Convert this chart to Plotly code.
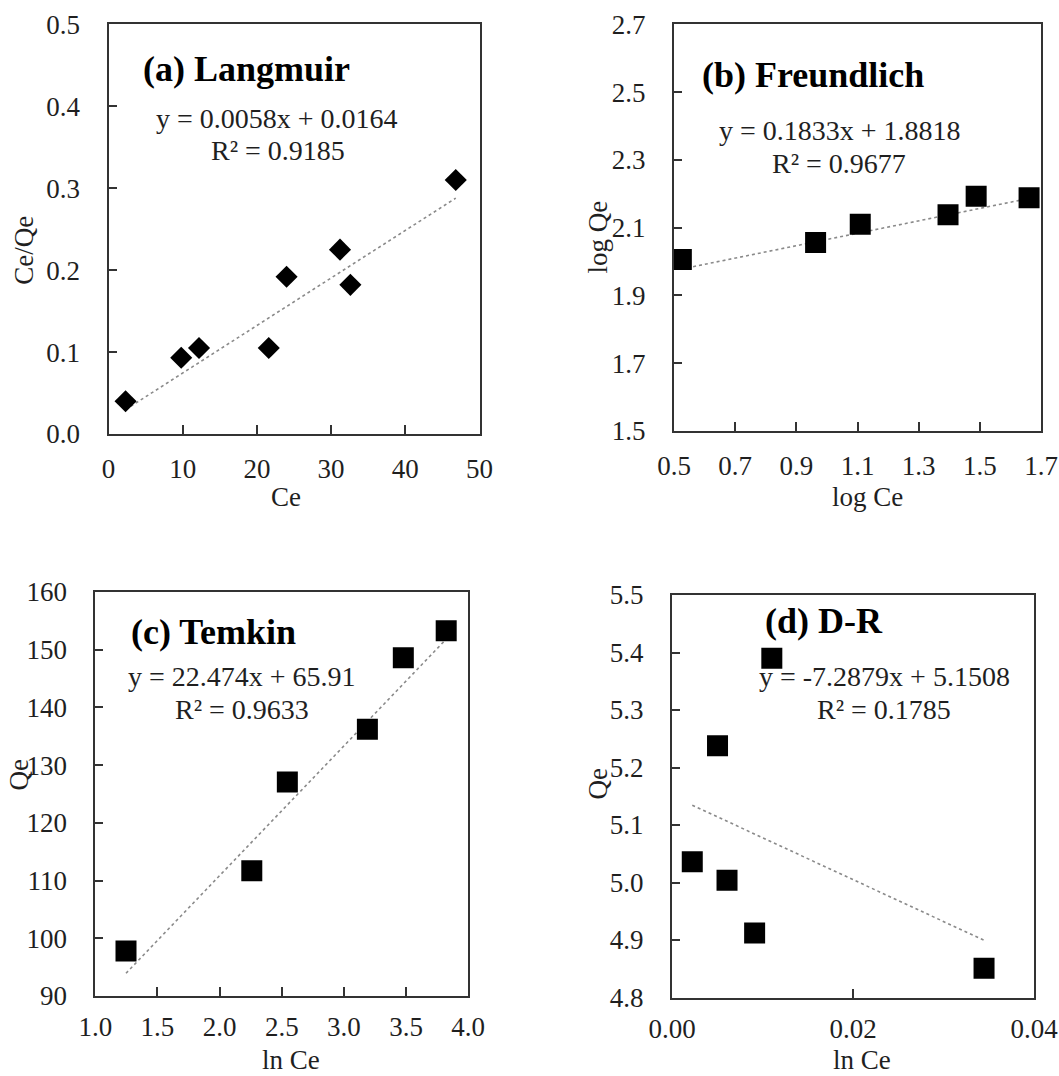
import plotly.graph_objects as go

W, H = 1059, 1076
FONT = "Liberation Serif"
TXT = "#1f1f1f"

# ---------------- data ----------------
# (a) Langmuir
lang_ce = [2.3, 9.8, 12.2, 21.6, 24.0, 31.2, 32.6, 46.8]
lang_ceqe = [0.040, 0.093, 0.105, 0.105, 0.192, 0.225, 0.182, 0.310]
lang_fit = (0.0058, 0.0164)
lang_eq = ["y = 0.0058x + 0.0164", "R² = 0.9185"]

# (b) Freundlich
fr_logce = [0.524, 0.963, 1.109, 1.396, 1.488, 1.661]
fr_logqe = [2.006, 2.056, 2.110, 2.138, 2.193, 2.188]
fr_fit = (0.1833, 1.8818)
fr_eq = ["y = 0.1833x + 1.8818", "R² = 0.9677"]

# (c) Temkin
tk_lnce = [1.247, 2.259, 2.545, 3.189, 3.478, 3.823]
tk_qe = [97.8, 111.7, 127.1, 136.2, 148.6, 153.3]
tk_fit = (22.474, 65.91)
tk_eq = ["y = 22.474x + 65.91", "R² = 0.9633"]

# (d) D-R
dr_x = [0.00224, 0.00503, 0.00608, 0.00913, 0.01103, 0.03448]
dr_qe = [5.036, 5.238, 5.004, 4.912, 5.390, 4.851]
dr_fit = (-7.2879, 5.1508)
dr_eq = ["y = -7.2879x + 5.1508", "R² = 0.1785"]

titles = ["(a) Langmuir", "(b) Freundlich", "(c) Temkin", "(d) D-R"]
xtitles = ["Ce", "log Ce", "ln Ce", "ln Ce"]
ytitles = ["Ce/Qe", "log Qe", "Qe", "Qe"]

# ---------------- layout helpers ----------------
def px(x):
    return x / W

def py(y):
    return 1 - y / H

# plot boxes in pixels: left, right, top, bottom
boxes = [
    (108.5, 479.5, 24.3, 434.0),
    (674.0, 1041.0, 24.3, 431.0),
    (95.3, 468.2, 592.0, 996.0),
    (672.0, 1034.0, 595.0, 997.5),
]
x_standoff = [10, 10, 6, 6]

fig = go.Figure()

panels = [
    (lang_ce, lang_ceqe, lang_fit, "diamond", 17),
    (fr_logce, fr_logqe, fr_fit, "square", 21),
    (tk_lnce, tk_qe, tk_fit, "square", 21),
    (dr_x, dr_qe, dr_fit, "square", 21),
]

for i, (xs, ys, (m, b), sym, size) in enumerate(panels):
    xa = "x" if i == 0 else f"x{i+1}"
    ya = "y" if i == 0 else f"y{i+1}"
    x0, x1 = min(xs), max(xs)
    fig.add_trace(go.Scatter(
        x=[x0, x1], y=[m * x0 + b, m * x1 + b], mode="lines",
        line=dict(color="#8a8a8a", width=1.6, dash="dot"),
        xaxis=xa, yaxis=ya, showlegend=False, hoverinfo="skip"))
    fig.add_trace(go.Scatter(
        x=xs, y=ys, mode="markers",
        marker=dict(symbol=sym, size=size, color="black",
                    line=dict(width=0)),
        xaxis=xa, yaxis=ya, showlegend=False))

axis_common = dict(
    showgrid=False, zeroline=False, showline=True, mirror=True,
    automargin=False,
    linecolor="#333333", linewidth=2, ticks="inside", tickcolor="#333333",
    tickwidth=1.8, tickfont=dict(family=FONT, size=27, color=TXT),
)

xspecs = [
    dict(range=[0, 50], tickvals=[0, 10, 20, 30, 40, 50], tickformat="d"),
    dict(range=[0.5, 1.7], tickvals=[0.5, 0.7, 0.9, 1.1, 1.3, 1.5, 1.7], tickformat=".1f"),
    dict(range=[1.0, 4.0], tickvals=[1.0, 1.5, 2.0, 2.5, 3.0, 3.5, 4.0], tickformat=".1f"),
    dict(range=[0, 0.04], tickvals=[0, 0.02, 0.04], tickformat=".2f"),
]
yspecs = [
    dict(range=[0, 0.5], tickvals=[0, 0.1, 0.2, 0.3, 0.4, 0.5], tickformat=".1f"),
    dict(range=[1.5, 2.7], tickvals=[1.5, 1.7, 1.9, 2.1, 2.3, 2.5, 2.7], tickformat=".1f"),
    dict(range=[90, 160], tickvals=[90, 100, 110, 120, 130, 140, 150, 160], tickformat="d"),
    dict(range=[4.8, 5.5], tickvals=[4.8, 4.9, 5.0, 5.1, 5.2, 5.3, 5.4, 5.5], tickformat=".1f"),
]

layout = dict(
    template="none",
    width=W, height=H, margin=dict(l=0, r=0, t=0, b=0, pad=0),
    paper_bgcolor="white", plot_bgcolor="white", showlegend=False,
    font=dict(family=FONT, color=TXT),
)

for i, (L, R, T, B) in enumerate(boxes):
    xk = "xaxis" if i == 0 else f"xaxis{i+1}"
    yk = "yaxis" if i == 0 else f"yaxis{i+1}"
    xa = "x" if i == 0 else f"x{i+1}"
    ya = "y" if i == 0 else f"y{i+1}"
    layout[xk] = dict(axis_common, domain=[px(L), px(R)], anchor=ya,
                      ticklen=9, ticklabelstandoff=x_standoff[i], **xspecs[i])
    layout[yk] = dict(axis_common, domain=[py(B), py(T)], anchor=xa,
                      ticklen=8, ticklabelstandoff=21, **yspecs[i])

fig.update_layout(**layout)

# annotation positions (pixels)
title_pos = [(141.3, 69), (700.4, 75), (128.5, 632), (762.8, 621)]
eq_pos = [((276.7, 119), (278, 150.4)),
          ((839.5, 130), (838.7, 164)),
          ((242.2, 676), (242.4, 709)),
          ((884.3, 676), (884.3, 709))]
# x-title: (x, y, yanchor)
xt_pos = [(285.7, 497, "middle"), (867.4, 497, "middle"),
          (290.7, 1075.5, "bottom"), (862.3, 1075.5, "bottom")]
yt_pos = [(23.7, 250), (597.5, 237), (18.6, 775), (597.5, 784)]
eqs = [lang_eq, fr_eq, tk_eq, dr_eq]

ann = []
for i in range(4):
    tx, ty = title_pos[i]
    ann.append(dict(x=px(tx), y=py(ty), xref="paper", yref="paper",
                    text="<b>" + titles[i] + "</b>", showarrow=False,
                    xanchor="left", yanchor="middle",
                    font=dict(family=FONT, size=36, color="black")))
    for (ex, ey), line in zip(eq_pos[i], eqs[i]):
        ann.append(dict(x=px(ex), y=py(ey), xref="paper", yref="paper",
                        text=line, showarrow=False, xanchor="center",
                        yanchor="middle",
                        font=dict(family=FONT, size=28, color=TXT)))
    ax_, ay_, anc = xt_pos[i]
    ann.append(dict(x=px(ax_), y=py(ay_), xref="paper", yref="paper",
                    text=xtitles[i], showarrow=False, xanchor="center",
                    yanchor=anc, borderpad=0,
                    font=dict(family=FONT, size=27, color=TXT)))
    bx, by = yt_pos[i]
    ann.append(dict(x=px(bx), y=py(by), xref="paper", yref="paper",
                    text=ytitles[i], showarrow=False, textangle=-90,
                    xanchor="center", yanchor="middle",
                    font=dict(family=FONT, size=27, color=TXT)))

fig.update_layout(annotations=ann)
fig.write_html(
    "out.html",
    config={"displayModeBar": False},
    post_script="document.body.style.margin='0';document.body.style.overflow='hidden';",
)
